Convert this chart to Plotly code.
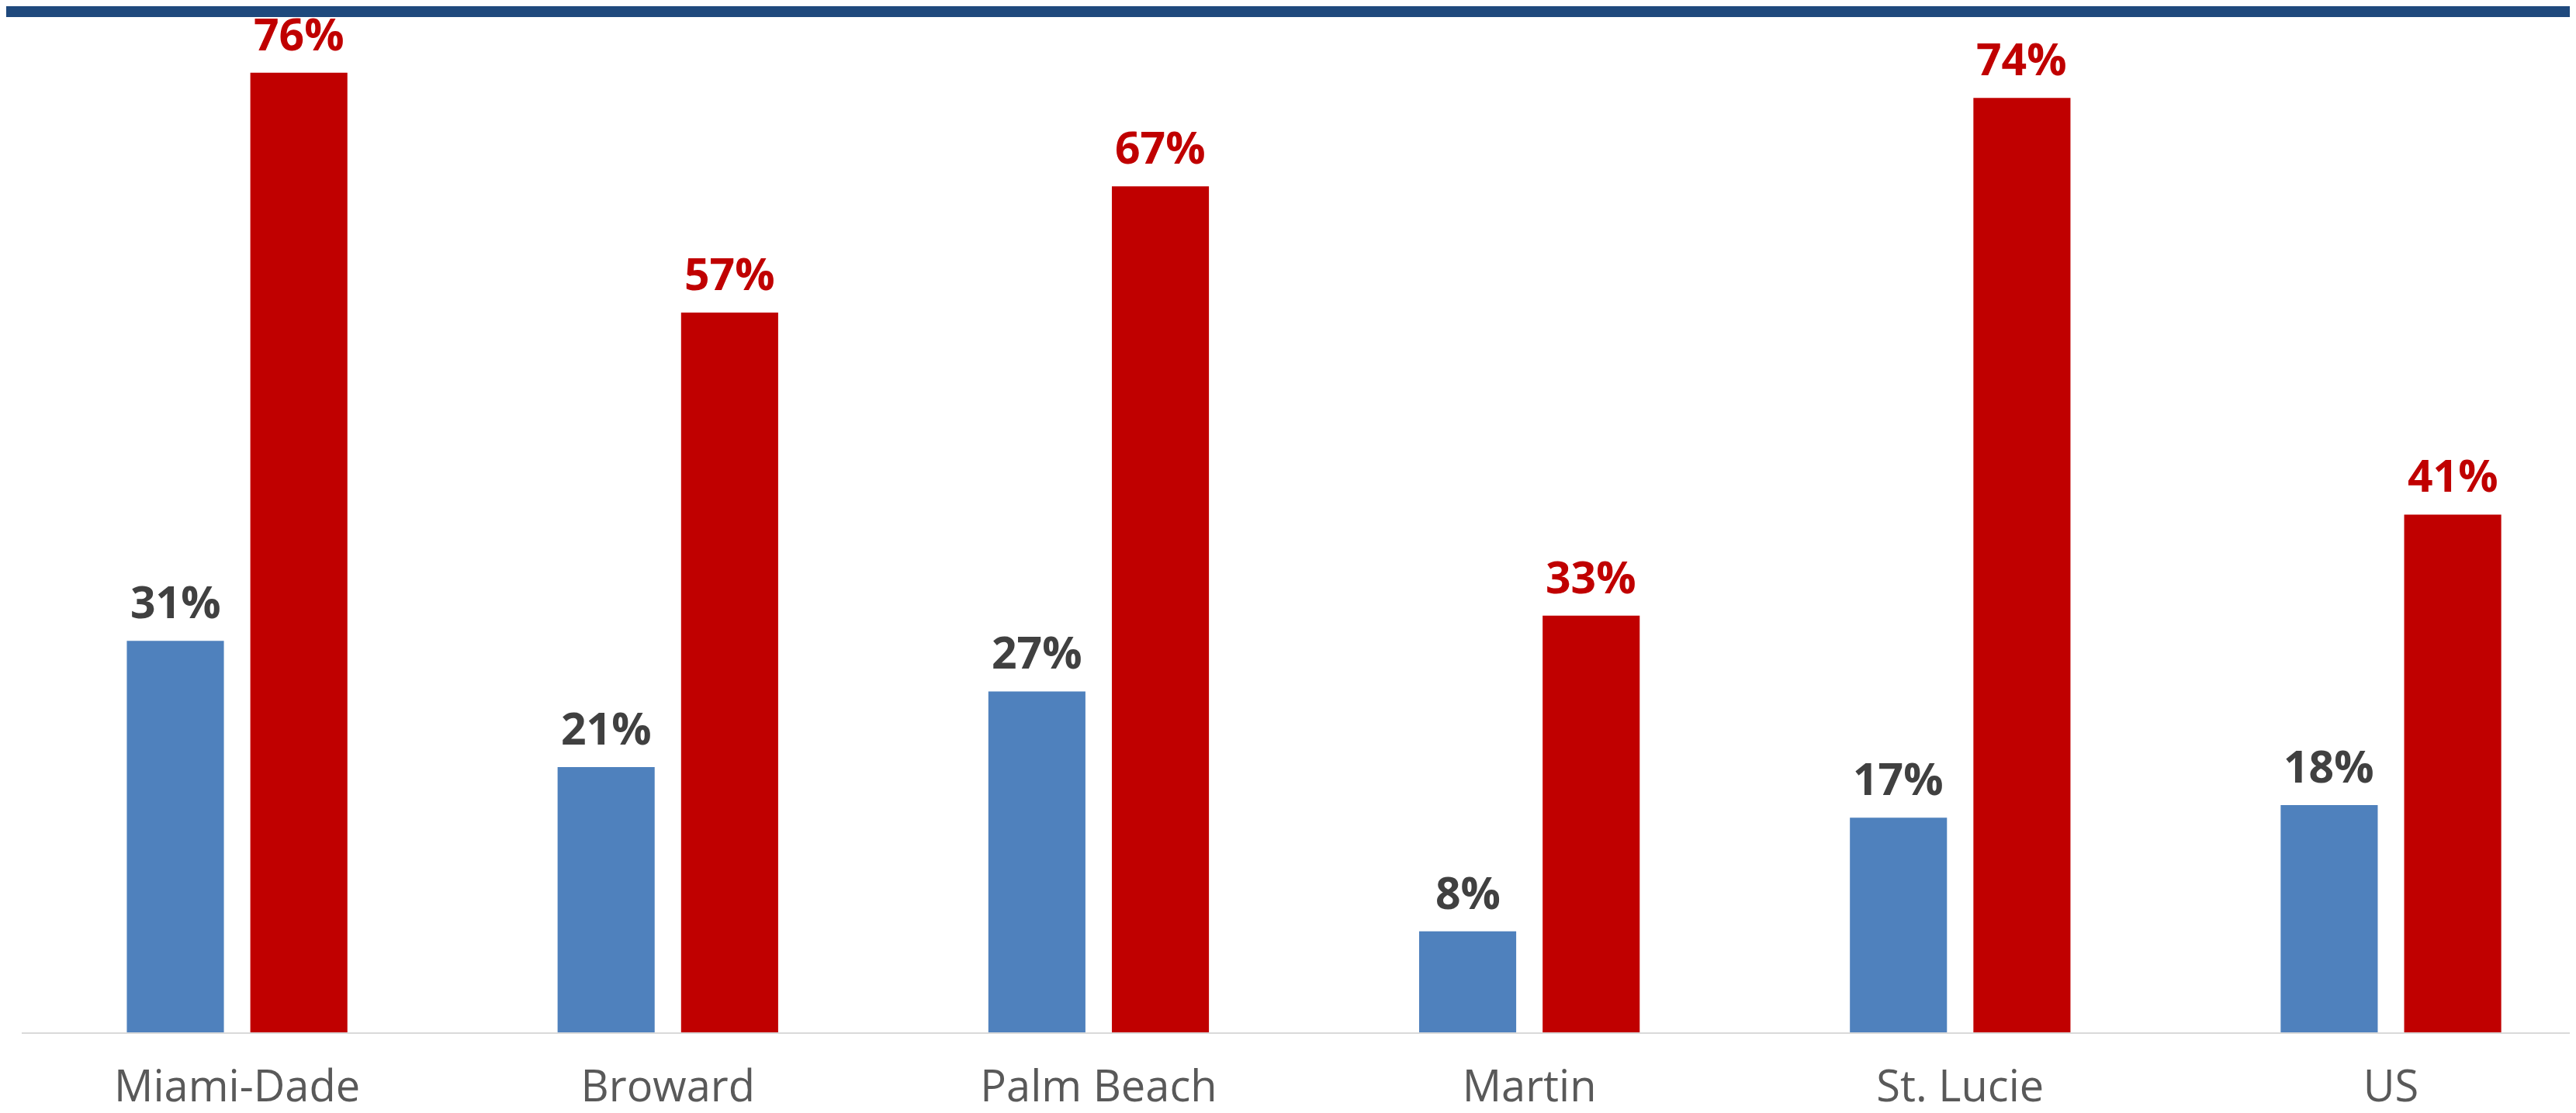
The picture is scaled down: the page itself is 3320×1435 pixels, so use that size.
import plotly.graph_objects as go

categories = ["Miami-Dade", "Broward", "Palm Beach", "Martin", "St. Lucie", "US"]
series_a = [31, 21, 27, 8, 17, 18]
series_b = [76, 57, 67, 33, 74, 41]

BLUE = "#4F81BD"
RED = "#C00000"
W, H = 3320, 1435
ML, MR, MT, MB = 20, 0, 14, 112
XMIN, XMAX = -0.5, 5.444
YMAX = 80.4

plot_h = H - MT - MB
cat_px = (W - ML - MR) / (XMAX - XMIN)
BARGAP = 0.4266
BARGROUPGAP = 0.214
slot_px = cat_px * (1 - BARGAP) / 2

fig = go.Figure()
fig.add_trace(go.Bar(x=categories, y=series_a, marker_color=BLUE, marker_line_width=0, name="A"))
fig.add_trace(go.Bar(x=categories, y=series_b, marker_color=RED, marker_line_width=0, name="B"))

LABEL_FONT = "Open Sans"
for vals, color, sign in ((series_a, "#404040", -1), (series_b, RED, 1)):
    for c, v in zip(categories, vals):
        fig.add_annotation(
            x=c, y=v, xref="x", yref="y", text=f"<b>{v}%</b>",
            showarrow=False, yanchor="bottom", xanchor="center",
            xshift=sign * slot_px / 2, yshift=10,
            font=dict(family=LABEL_FONT, size=57, color=color),
        )

fig.add_shape(type="rect", xref="paper", yref="paper", x0=-0.01, x1=1.01,
              y0=1, y1=1 + (MT + 2) / plot_h, fillcolor="#1F497D",
              line_width=0, layer="below")

fig.update_layout(
    width=W, height=H,
    margin=dict(l=ML, r=MR, t=MT, b=MB),
    paper_bgcolor="white", plot_bgcolor="white",
    barmode="group", bargap=BARGAP, bargroupgap=BARGROUPGAP,
    showlegend=False,
    xaxis=dict(range=[XMIN, XMAX], showline=True, linecolor="#D9D9D9", linewidth=2,
               showgrid=False, zeroline=False, ticks="",
               tickfont=dict(family="Open Sans", size=56, color="#595959"),
               ticklabelstandoff=20),
    yaxis=dict(range=[0, YMAX], visible=False, showgrid=False, zeroline=False),
)

fig.write_html("out.html")
